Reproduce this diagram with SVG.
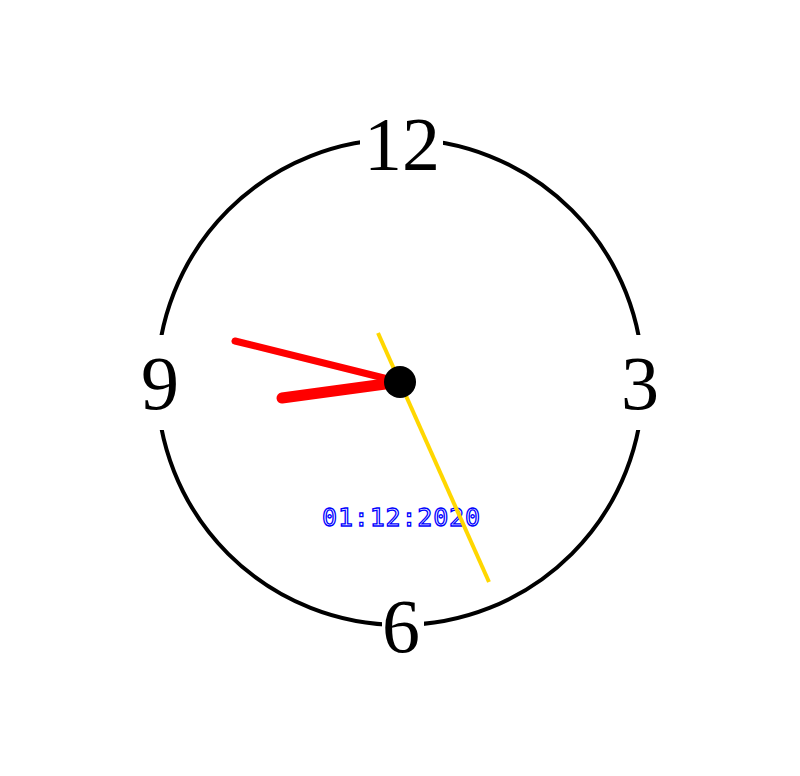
<svg xmlns="http://www.w3.org/2000/svg" width="800" height="776" viewBox="0 0 800 776">
<style>
.num{font-family:"Liberation Serif","Times New Roman",serif;font-size:76px;fill:#000;text-anchor:middle}
.gap{fill:#fff}
.date{font-family:"DejaVu Sans Mono","Liberation Mono",monospace;font-size:25px;fill:#fff;stroke:#0000ff;stroke-width:1.3px;text-anchor:middle}
</style>
<rect width="800" height="776" fill="#fff"/>
<g id="dial">
<circle cx="400" cy="382" r="243" fill="none" stroke="#000" stroke-width="4"/>
</g>
<g id="numbers">
<rect class="gap" x="360" y="125" width="83" height="30"/>
<rect class="gap" x="145" y="335" width="30" height="95"/>
<rect class="gap" x="625" y="335" width="30" height="95"/>
<rect class="gap" x="382" y="610" width="42" height="30"/>
<text class="num" x="402" y="170">12</text>
<text class="num" x="640" y="409">3</text>
<text class="num" x="401" y="652">6</text>
<text class="num" x="160" y="409">9</text>
</g>
<g id="date">
<text class="date" x="401" y="526" textLength="158" lengthAdjust="spacing">01:12:2020</text>
</g>
<g id="hands" stroke-linecap="round">
<line id="minute" x1="400" y1="382" x2="235" y2="341" stroke="#ff0000" stroke-width="7"/>
<line id="hour" x1="400" y1="382" x2="282" y2="398" stroke="#ff0000" stroke-width="11"/>
<line id="second" x1="378" y1="333" x2="489" y2="582" stroke="#ffd700" stroke-width="4" stroke-linecap="butt"/>
<circle cx="400" cy="382" r="16" fill="#000"/>
</g>
</svg>
